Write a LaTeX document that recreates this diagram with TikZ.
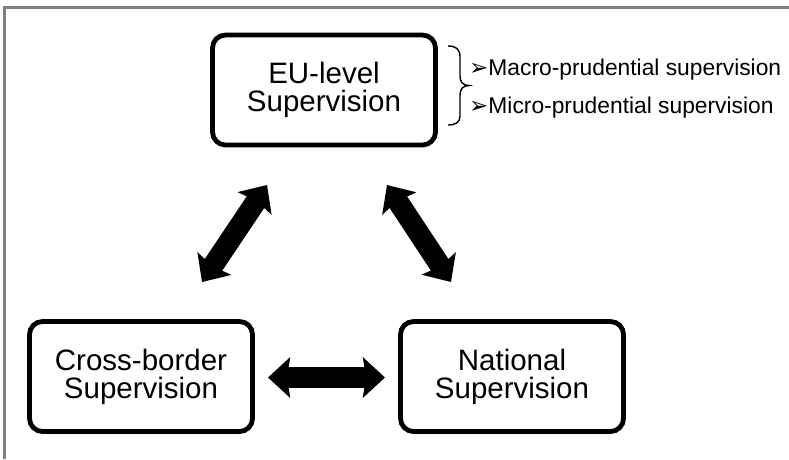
\documentclass[tikz,border=0pt]{standalone}
\usepackage{fontspec}
\setmainfont{Liberation Sans}
\newfontfamily\symfont{DejaVu Sans}
\usetikzlibrary{arrows.meta}
\begin{document}
\begin{tikzpicture}[x=1pt,y=-1pt,
  box/.style={draw=black, line width=4.8pt, rounded corners=13pt, minimum width=223pt, minimum height=110pt, align=center, inner sep=0pt, font=\fontsize{29.5}{28}\selectfont, fill=white},
  bigarrow/.style={line width=21pt, {Stealth[length=22pt, width=40pt, inset=3pt]}-{Stealth[length=22pt, width=40pt, inset=3pt]}},
  bullettext/.style={anchor=west, inner sep=0pt, font=\fontsize{22.8}{24}\selectfont}
]
\useasboundingbox (0,0) rectangle (789,459);
\fill[white] (0,0) rectangle (789,459);
% gray frame (top and left)
\draw[line width=3.3pt, color=black!50] (4.3,459) -- (4.3,7.5) -- (789,7.5);
% boxes
\node[box] (eu) at (324,90) {EU-level\\Supervision};
\node[box] (cb) at (141,376.5) {Cross-border\\Supervision};
\node[box] (nat) at (512,376.5) {National\\Supervision};
% arrow end points
\coordinate (l1) at (202,282);
\coordinate (l2) at (267,185);
\coordinate (r1) at (387,185);
\coordinate (r2) at (451,282);
\coordinate (h1) at (268,377.5);
\coordinate (h2) at (385,377.5);
\draw[bigarrow] (l1) -- (l2);
\draw[bigarrow] (r1) -- (r2);
\draw[bigarrow] (h1) -- (h2);
% brace
\draw[line width=1.4pt] (448,46) .. controls (456,46) and (460,49) .. (460,57) -- (460,76) .. controls (460,82) and (463,85.5) .. (469,85.5) .. controls (463,85.5) and (460,89) .. (460,95) -- (460,116) .. controls (460,122) and (456,125) .. (448,125);
% bullet texts
\node[bullettext] (macro) at (469,70) {{\symfont\fontsize{23}{24}\selectfont ➢}Macro-prudential supervision};
\node[bullettext] (micro) at (469,108) {{\symfont\fontsize{23}{24}\selectfont ➢}Micro-prudential supervision};
\end{tikzpicture}
\end{document}
